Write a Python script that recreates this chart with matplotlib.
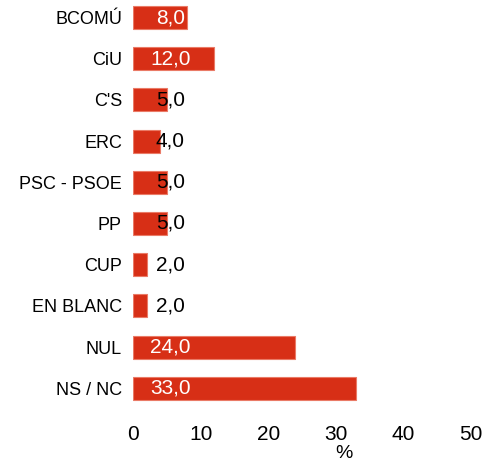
import matplotlib
matplotlib.use("Agg")
import matplotlib.pyplot as plt

categories = ["BCOMÚ", "CiU", "C'S", "ERC", "PSC - PSOE", "PP", "CUP", "EN BLANC", "NUL", "NS / NC"]
values = [8.0, 12.0, 5.0, 4.0, 5.0, 5.0, 2.0, 2.0, 24.0, 33.0]
xticks = [0, 10, 20, 30, 40, 50]

plt.rcParams['font.family'] = ['Liberation Sans', 'DejaVu Sans']

fig = plt.figure(figsize=(4.88, 4.62), dpi=100)
W, H = 488, 462
left_px, right_px = 133, 471
top_px, bot_px = 0, 410
ax = fig.add_axes([left_px / W, 1 - bot_px / H, (right_px - left_px) / W, (bot_px - top_px) / H])

y = list(range(len(categories)))
ax.barh(y, values, height=0.56, color='#d72f16', edgecolor='#ea7a66', linewidth=0.8)
ax.set_xlim(0, 50)
ax.set_ylim(9.527, -0.425)
ax.set_yticks(y)
ax.set_yticklabels(categories, fontsize=13)
ax.set_xticks(xticks)
ax.set_xticklabels([str(t) for t in xticks], fontsize=15)
ax.tick_params(axis='both', length=0)
ax.tick_params(axis='x', pad=11)
ax.tick_params(axis='y', pad=8)
for s in ax.spines.values():
    s.set_visible(False)

for yi, v in zip(y, values):
    col = 'white' if v >= 8 else 'black'
    ax.text(5.5, yi, f"{v:.1f}".replace('.', ','), ha='center', va='center',
            fontsize=15, color=col)

ax.set_xlabel('%', fontsize=14)
ax.xaxis.set_label_coords((344 - left_px) / (right_px - left_px), -(453 - bot_px) / (bot_px - top_px))
ax.xaxis.label.set_va('center')

fig.savefig('out.png', dpi=100)
